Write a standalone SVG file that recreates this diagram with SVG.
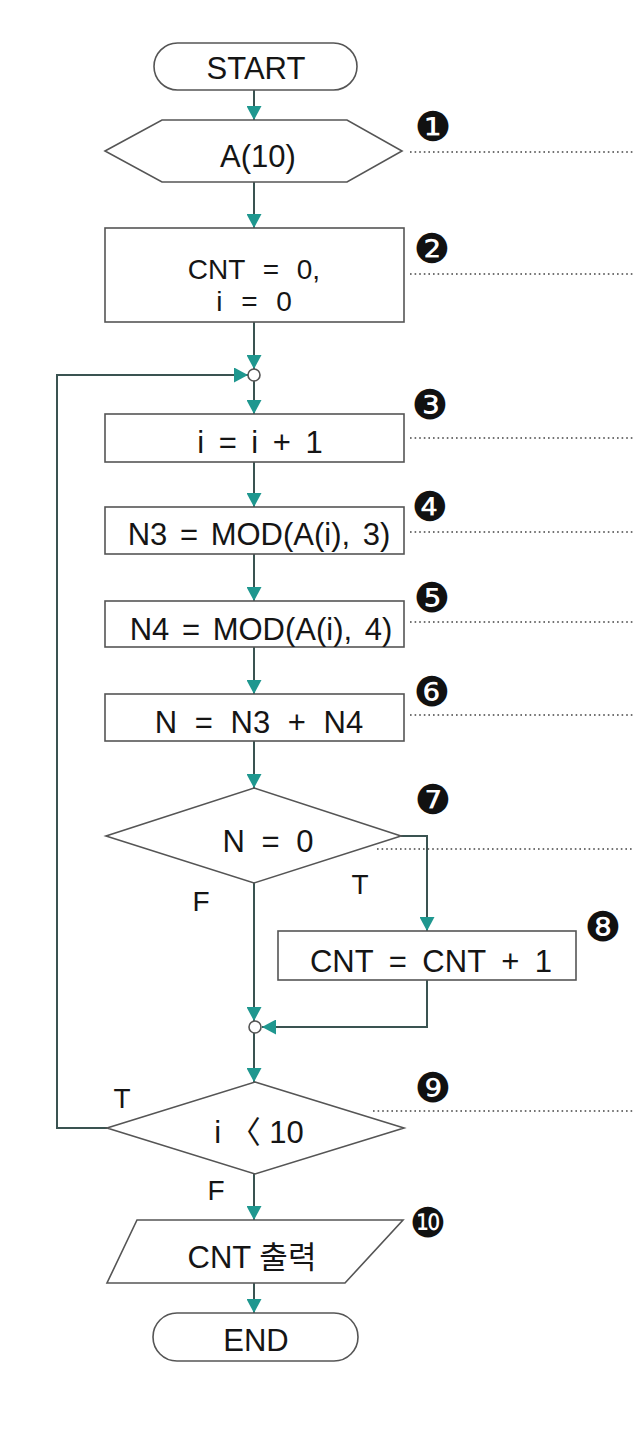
<svg xmlns="http://www.w3.org/2000/svg" width="634" height="1440" viewBox="0 0 634 1440">
<defs>
<style>
.shape{fill:#fff;stroke:#555;stroke-width:1.6}
.t{font-family:"Liberation Sans",Arial,"Noto Sans CJK KR",sans-serif;font-size:31px;fill:#151515;text-anchor:middle}
.lbl{font-family:"Liberation Sans",Arial,sans-serif;font-size:28px;fill:#151515;text-anchor:middle}
.num{font-family:"DejaVu Sans",sans-serif;font-size:41px;fill:#111;text-anchor:middle}
.conn{fill:none;stroke:#3a5351;stroke-width:2}
.dot{fill:none;stroke:#444;stroke-width:1.6;stroke-dasharray:1.6 3}
</style>
<marker id="ah" markerUnits="userSpaceOnUse" markerWidth="15" markerHeight="15" refX="14" refY="7.5" orient="auto">
<path d="M0,0 L14,7.5 L0,15 z" fill="#1f978f"/>
</marker>
</defs>
<rect width="634" height="1440" fill="#fff"/>

<g id="connectors">
<path class="conn" d="M254,90 V120" marker-end="url(#ah)"/>
<path class="conn" d="M254,182 V228" marker-end="url(#ah)"/>
<path class="conn" d="M254,322 V369" marker-end="url(#ah)"/>
<path class="conn" d="M254,381 V414" marker-end="url(#ah)"/>
<path class="conn" d="M254,462 V507" marker-end="url(#ah)"/>
<path class="conn" d="M254,554 V601" marker-end="url(#ah)"/>
<path class="conn" d="M254,647 V694" marker-end="url(#ah)"/>
<path class="conn" d="M254,741 V788" marker-end="url(#ah)"/>
<path class="conn" d="M401,836 H427 V931" marker-end="url(#ah)"/>
<path class="conn" d="M254,883 V1021" marker-end="url(#ah)"/>
<path class="conn" d="M427,980 V1027 H262" marker-end="url(#ah)"/>
<path class="conn" d="M254,1033 V1082" marker-end="url(#ah)"/>
<path class="conn" d="M107,1128 H57 V375 H248" marker-end="url(#ah)"/>
<path class="conn" d="M254,1174 V1220" marker-end="url(#ah)"/>
<path class="conn" d="M254,1283 V1313" marker-end="url(#ah)"/>
<text class="lbl" x="360" y="894">T</text>
<text class="lbl" x="201" y="911">F</text>
<text class="lbl" x="122" y="1108">T</text>
<text class="lbl" x="216" y="1200">F</text>
</g>

<g id="annotations">
<path class="dot" d="M410,152 H634"/>
<path class="dot" d="M410,274 H634"/>
<path class="dot" d="M410,438 H634"/>
<path class="dot" d="M410,532 H634"/>
<path class="dot" d="M410,622 H634"/>
<path class="dot" d="M410,715 H634"/>
<path class="dot" d="M377,849 H634"/>
<path class="dot" d="M373,1111 H634"/>
<text class="num" x="433" y="141">❶</text>
<text class="num" x="432" y="263">❷</text>
<text class="num" x="430" y="419">❸</text>
<text class="num" x="430" y="521">❹</text>
<text class="num" x="432" y="612">❺</text>
<text class="num" x="432" y="706">❻</text>
<text class="num" x="433" y="814">❼</text>
<text class="num" x="603" y="941">❽</text>
<text class="num" x="433" y="1102">❾</text>
<text class="num" x="428" y="1237">❿</text>
</g>

<g id="start">
<rect class="shape" x="154" y="43" width="203" height="47" rx="23.5"/>
<text class="t" x="256" y="79">START</text>
</g>
<g id="input-a">
<polygon class="shape" points="105,151 162,120 347,120 402,151 347,182 162,182"/>
<text class="t" x="258" y="167">A(10)</text>
</g>
<g id="init">
<rect class="shape" x="105" y="228" width="299" height="94"/>
<text class="t" style="font-size:28px"><tspan x="254" y="279" word-spacing="10">CNT = 0,</tspan><tspan x="254" y="311" word-spacing="11">i = 0</tspan></text>
</g>
<g id="junction1">
<circle class="shape" cx="254" cy="375" r="6"/>
</g>
<g id="inc-i">
<rect class="shape" x="105" y="414" width="299" height="48"/>
<text class="t" x="260" y="453" word-spacing="6">i = i + 1</text>
</g>
<g id="n3">
<rect class="shape" x="105" y="507" width="299" height="47"/>
<text class="t" x="259" y="545" word-spacing="4">N3 = MOD(A(i), 3)</text>
</g>
<g id="n4">
<rect class="shape" x="105" y="601" width="299" height="46"/>
<text class="t" x="261" y="640" word-spacing="4">N4 = MOD(A(i), 4)</text>
</g>
<g id="n-sum">
<rect class="shape" x="105" y="694" width="299" height="47"/>
<text class="t" x="259" y="733" word-spacing="9">N = N3 + N4</text>
</g>
<g id="dec-n">
<polygon class="shape" points="254,788 401,836 254,883 106,836"/>
<text class="t" x="268" y="852" word-spacing="8">N = 0</text>
</g>
<g id="cnt-inc">
<rect class="shape" x="278" y="931" width="298" height="49"/>
<text class="t" x="431" y="972" word-spacing="7">CNT = CNT + 1</text>
</g>
<g id="junction2">
<circle class="shape" cx="255" cy="1027" r="6"/>
</g>
<g id="dec-i">
<polygon class="shape" points="255,1082 404,1128 255,1174 107,1128"/>
<text class="t" x="259" y="1143">i 〈 10</text>
</g>
<g id="output">
<polygon class="shape" points="137,1220 403,1220 345,1283 107,1283"/>
<text class="t" x="252" y="1268">CNT 출력</text>
</g>
<g id="end">
<rect class="shape" x="153" y="1313" width="205" height="48" rx="24"/>
<text class="t" x="256" y="1351">END</text>
</g>
</svg>
